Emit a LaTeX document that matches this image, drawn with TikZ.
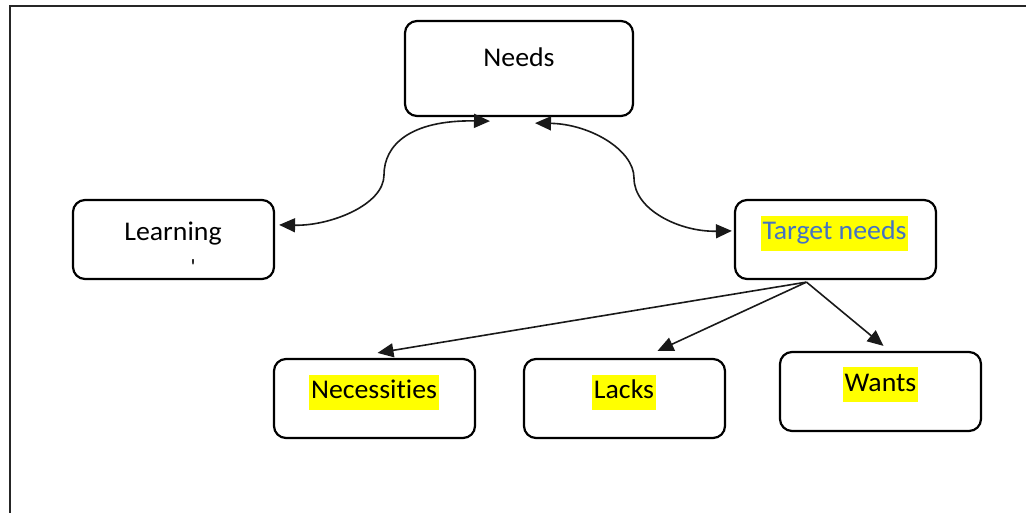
\documentclass[tikz,border=0pt]{standalone}
\usepackage{fontspec}
\setmainfont{Carlito}[Ligatures={NoCommon}]
\usetikzlibrary{arrows.meta,calc}
\definecolor{hl}{RGB}{255,255,0}
\definecolor{tblue}{RGB}{68,114,196}
\tikzset{
  box/.style={draw=black, line width=2.2pt, rounded corners=12pt, fill=white, inner sep=0pt},
  lbl/.style={font=\fontsize{27}{31}\selectfont, inner sep=0pt, text=black, xscale=1.03},
  hlbl/.style={lbl, fill=hl, text height=22pt, text depth=9pt, inner xsep=1.5pt, inner ysep=2pt},
  conn/.style={draw=black!90, line width=1.6pt, -{Triangle[length=16pt,width=14pt]}},
  dconn/.style={draw=black!90, line width=1.6pt, {Triangle[length=16pt,width=14pt]}-{Triangle[length=16pt,width=14pt]}},
}
\begin{document}
\begin{tikzpicture}[x=1pt,y=-1pt]
\useasboundingbox (0,0) rectangle (1026,512);
\draw[line width=2.5pt, black!85] (10,514) -- (10,6) -- (1028,6);

\node[box, minimum width=228pt, minimum height=95pt] (needs) at (519,68.5) {};
\node[box, minimum width=201pt, minimum height=79pt] (learning) at (173.5,239.5) {};
\node[box, minimum width=201pt, minimum height=79pt] (target) at (835.5,239.5) {};
\node[box, minimum width=201pt, minimum height=79pt] (necess) at (374.5,398.5) {};
\node[box, minimum width=201pt, minimum height=79pt] (lacks) at (624.5,398.5) {};
\node[box, minimum width=201pt, minimum height=79pt] (wants) at (880.5,391.5) {};

\node[lbl, anchor=base] (needsT) at (519,66.5) {Needs};
\node[lbl, anchor=base] (learningT) at (173,240) {Learning};
\node[lbl, font=\fontsize{22}{24}\selectfont, anchor=base] (tick) at (193,274) {\textquotesingle};
\node[hlbl, text=tblue] (targetT) at (834.5,233) {Target needs};
\node[hlbl] (necessT) at (374,392) {Necessities};
\node[hlbl] (lacksT) at (624,392) {Lacks};
\node[hlbl] (wantsT) at (880.5,384.5) {Wants};

% curved double arrows
\coordinate (lA) at ($(needs.south)+(-29,4)$);
\coordinate (lB) at ($(learning.north east)+(4,26)$);
\coordinate (lM) at (384,175);
\draw[dconn] (lA) .. controls (410,120) and (384,145) .. (lM) .. controls (384,205) and (330,226) .. (lB);

\coordinate (rA) at ($(needs.south)+(16,6)$);
\coordinate (rB) at ($(target.north west)+(-2,32)$);
\coordinate (rM) at (634,178);
\draw[dconn] (rA) .. controls (590,124) and (634,150) .. (rM) .. controls (634,210) and (680,232) .. (rB);

% straight arrows
\coordinate (tsrc) at ($(target.south)+(-29,2)$);
\draw[conn] (tsrc) -- ($(necess.north)+(3,-5)$);
\draw[conn] (tsrc) -- ($(lacks.north)+(33,-7)$);
\draw[conn] (tsrc) -- ($(wants.north)+(3,-5)$);
\end{tikzpicture}
\end{document}
